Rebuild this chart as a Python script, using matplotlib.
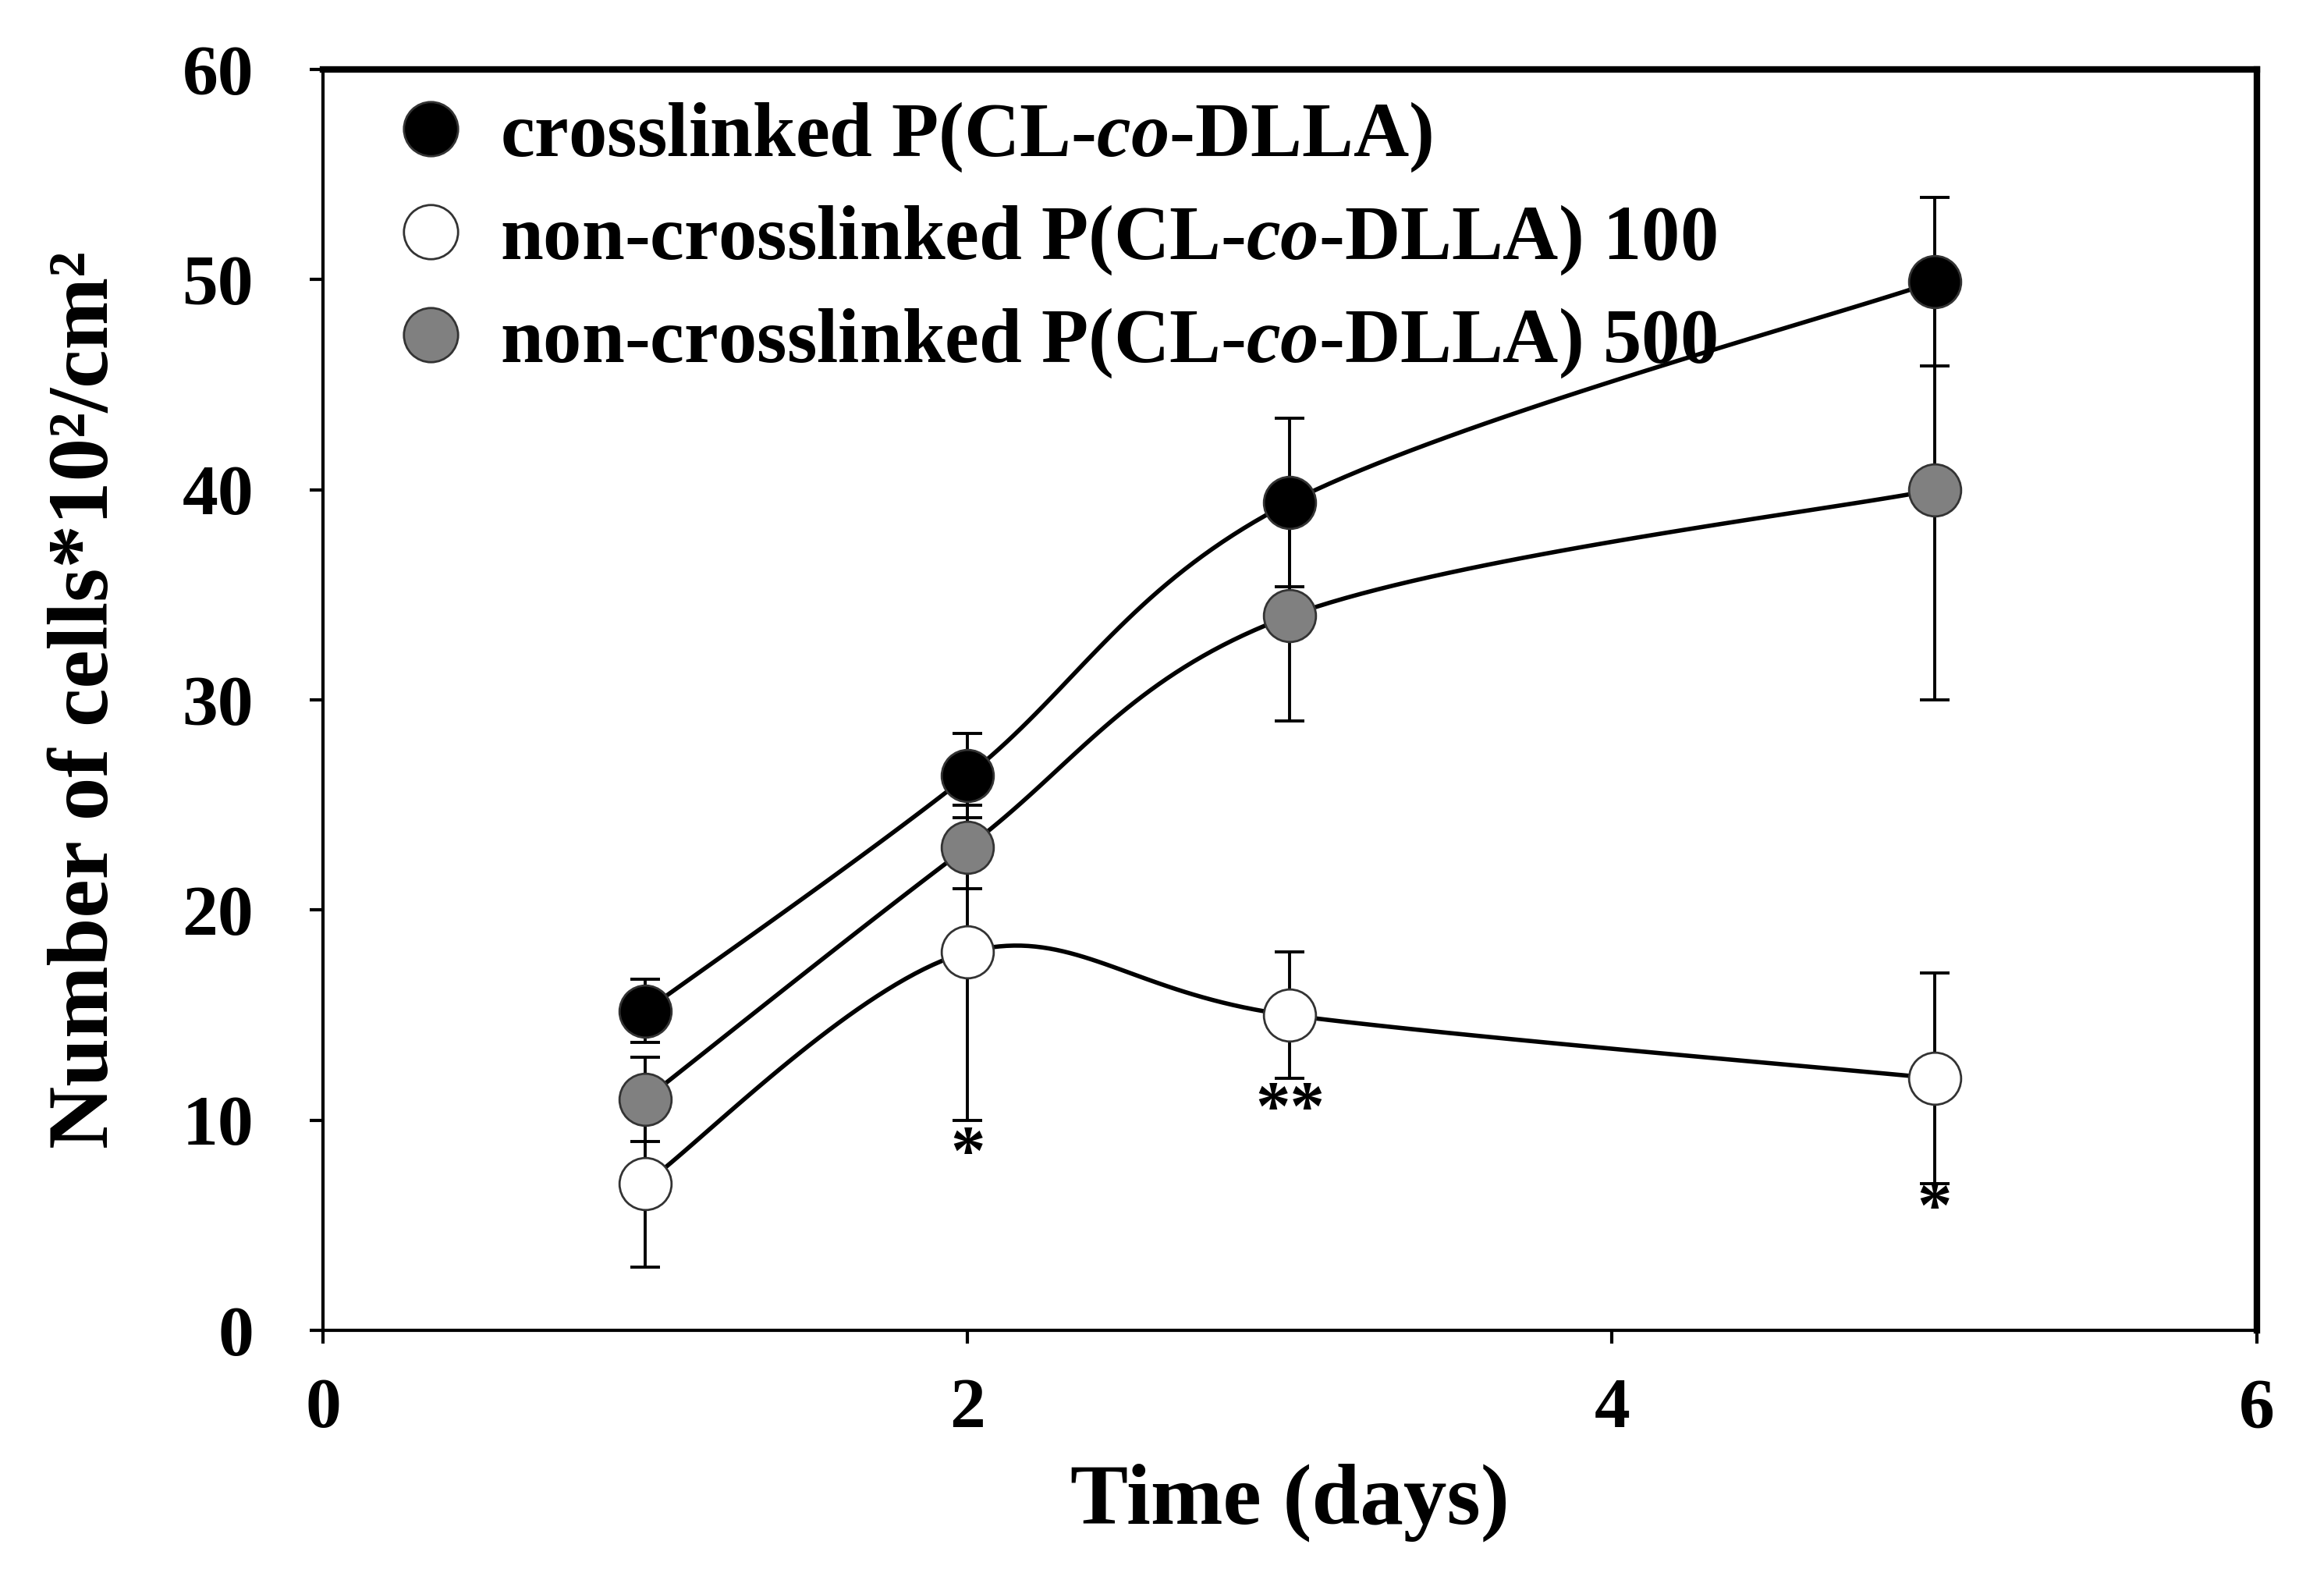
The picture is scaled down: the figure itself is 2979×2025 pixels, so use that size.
import numpy as np
import matplotlib
matplotlib.use('Agg')
import matplotlib.pyplot as plt
from matplotlib.lines import Line2D

plt.rcParams['font.family'] = ['Liberation Serif', 'DejaVu Serif']
plt.rcParams['font.weight'] = 'bold'

# data
days = [1, 2, 3, 5]
cross = [15.2, 26.4, 39.4, 49.9]
cross_err = [1.5, 2.0, 4.0, 4.0]
nc100 = [7.0, 18.0, 15.0, 12.0]
nc100_err = [4.0, 8.0, 3.0, 5.0]
nc500 = [11.0, 23.0, 34.0, 40.0]
nc500_err = [2.0, 2.0, 5.0, 10.0]
labels = ['crosslinked P(CL-$\\it{co}$-DLLA)',
          'non-crosslinked P(CL-$\\it{co}$-DLLA) 100',
          'non-crosslinked P(CL-$\\it{co}$-DLLA) 500']
stars = [(2, 8.3, '*'), (3, 10.4, '**'), (5, 5.7, '*')]

plt.rcParams['mathtext.fontset'] = 'custom'
plt.rcParams['mathtext.it'] = 'Liberation Serif:bold:italic'
plt.rcParams['mathtext.rm'] = 'Liberation Serif:bold'


def smooth(x, y, n=40):
    # excel-like smoothed line (catmull-rom bezier)
    x = np.asarray(x, float)
    y = np.asarray(y, float)
    px, py = [], []
    for i in range(len(x) - 1):
        x0, y0 = (x[i - 1], y[i - 1]) if i > 0 else (x[i], y[i])
        x3, y3 = (x[i + 2], y[i + 2]) if i + 2 < len(x) else (x[i + 1], y[i + 1])
        c1x = x[i] + (x[i + 1] - x0) / 6
        c1y = y[i] + (y[i + 1] - y0) / 6
        c2x = x[i + 1] - (x3 - x[i]) / 6
        c2y = y[i + 1] - (y3 - y[i]) / 6
        t = np.linspace(0, 1, n)
        px.append((1 - t) ** 3 * x[i] + 3 * (1 - t) ** 2 * t * c1x + 3 * (1 - t) * t ** 2 * c2x + t ** 3 * x[i + 1])
        py.append((1 - t) ** 3 * y[i] + 3 * (1 - t) ** 2 * t * c1y + 3 * (1 - t) * t ** 2 * c2y + t ** 3 * y[i + 1])
    return np.concatenate(px), np.concatenate(py)


fig = plt.figure(figsize=(14.895, 10.125), dpi=200)
ax = fig.add_axes([0.139, 0.158, 0.832, 0.798])

series = [(nc500, nc500_err, '#808080'), (nc100, nc100_err, 'white'), (cross, cross_err, 'black')]
for vals, err, fc in series:
    sx, sy = smooth(days, vals)
    ax.plot(sx, sy, color='black', lw=2.0, zorder=2)
    ax.errorbar(days, vals, yerr=err, fmt='none', ecolor='black', elinewidth=1.4,
                capsize=7, capthick=1.4, zorder=1)
    ax.plot(days, vals, 'o', ms=24, mfc=fc, mec='#333333', mew=1.0, ls='none', zorder=3)

for x, y, s in stars:
    ax.text(x, y, s, ha='center', va='center', fontsize=32, fontweight='bold')

ax.set_xlim(0, 6)
ax.set_ylim(0, 60)
ax.set_xticks([0, 2, 4, 6])
ax.set_yticks(range(0, 61, 10))
ax.tick_params(direction='out', length=6, width=1.5, labelsize=33)
ax.tick_params(axis='y', pad=26)
ax.tick_params(axis='x', pad=16)
for lab in ax.get_xticklabels() + ax.get_yticklabels():
    lab.set_fontweight('bold')
ax.spines['left'].set_linewidth(1.5)
ax.spines['bottom'].set_linewidth(1.5)
ax.spines['top'].set_linewidth(3)
ax.spines['right'].set_linewidth(3)

ax.set_xlabel('Time (days)', fontsize=40, fontweight='bold', labelpad=10)
ax.set_ylabel('Number of cells*10²/cm²', fontsize=40, fontweight='bold', labelpad=26)

handles = [Line2D([], [], marker='o', ms=25, ls='none', mfc=fc, mec='#333333', mew=1.0)
           for fc in ['black', 'white', '#808080']]
ax.legend(handles, labels, loc='upper left', frameon=False,
          handletextpad=-0.1, labelspacing=0.38, borderaxespad=0.1, borderpad=0.3,
          prop={'weight': 'bold', 'size': 35.5})

fig.savefig('out.png', dpi=200, facecolor='white')
